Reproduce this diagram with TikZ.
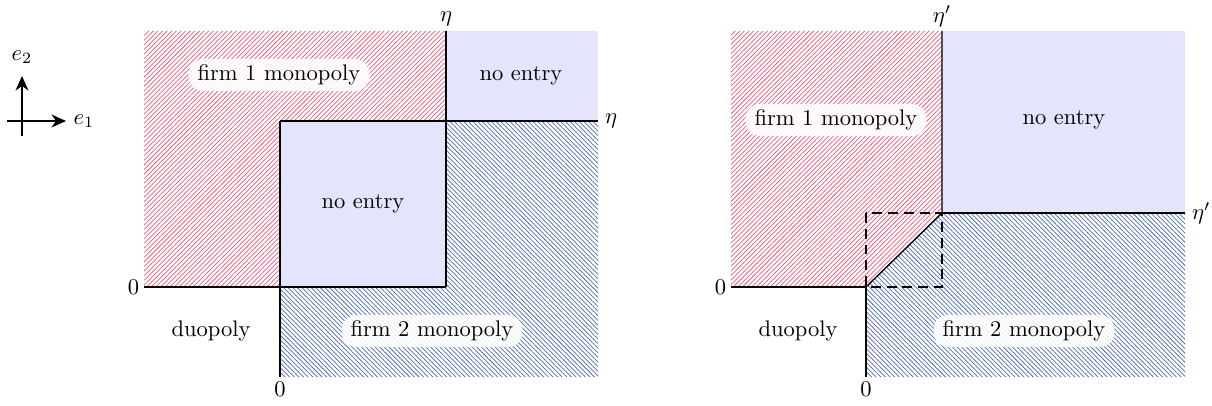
\documentclass[tikz,border=0pt]{standalone}
\usetikzlibrary{patterns.meta,arrows.meta}
\definecolor{hatchred}{RGB}{240,85,120}
\definecolor{hatchblue}{RGB}{75,105,180}
\definecolor{noentry}{RGB}{228,228,252}
\begin{document}
\begin{tikzpicture}[x=0.444pt,y=-0.444pt,
  redhatch/.style={pattern={Lines[angle=45,distance=1.45pt,line width=0.32pt]},pattern color=hatchred},
  bluehatch/.style={pattern={Lines[angle=-45,distance=1.45pt,line width=0.32pt]},pattern color=hatchblue},
  noentryfill/.style={fill=noentry},
  border/.style={line width=0.6pt},
  dashbox/.style={line width=0.6pt,dash pattern=on 4.4pt off 2.6pt},
  tag/.style={fill=white, fill opacity=0.9, text opacity=1, rounded corners=6.5pt, inner xsep=4pt, inner ysep=2.6pt},
  plain/.style={inner sep=2pt},
  axisarrow/.style={line width=0.5pt,-{Stealth[length=6.5pt,width=5.8pt]}}
]
\useasboundingbox (0,0) rectangle (1212,406);

% ---------- axes icon ----------
\coordinate (o) at (22,121);
\coordinate (oL) at (7,121);
\coordinate (oB) at (22,136);
\coordinate (e1end) at (66,121);
\coordinate (e2end) at (22,76);
\draw[axisarrow] (oL) -- (e1end);
\draw[axisarrow] (oB) -- (e2end);
\node[plain] (e1) at (84,121) {$e_1$};
\node[plain] (e2) at (22,57) {$e_2$};

% ---------- left panel ----------
\fill[redhatch] (144,31) -- (446,31) -- (446,121) -- (280,121) -- (280,287) -- (144,287) -- cycle;
\fill[bluehatch] (446,121) -- (598,121) -- (598,377) -- (280,377) -- (280,287) -- (446,287) -- cycle;
\fill[noentryfill] (446,31) rectangle (598,121);
\fill[noentryfill] (280,121) rectangle (446,287);

\coordinate (Ltop) at (446,31);
\coordinate (Lmid) at (446,121);
\coordinate (Lbr) at (446,287);
\coordinate (Lright) at (598,121);
\coordinate (Lbl) at (280,121);
\coordinate (Lbot) at (280,377);
\coordinate (Lleft) at (144,287);
\coordinate (Lzero) at (280,287);
\draw[border] (Ltop) -- (Lbr);
\draw[border] (Lbl) -- (Lright);
\draw[border] (Lleft) -- (Lbr);
\draw[border] (Lbl) -- (Lbot);

\node[plain,anchor=south] (Leta1) at (Ltop) {$\eta$};
\node[plain,anchor=west] (Leta2) at ([xshift=1pt]Lright) {$\eta$};
\node[plain,anchor=east] (Lz1) at (Lleft) {$0$};
\node[plain,anchor=north] (Lz2) at (Lbot) {$0$};

\node[tag] (Lf1) at (279,75) {firm 1 monopoly};
\node (Lne1) at (521,76) {no entry};
\node (Lne2) at (363,204) {no entry};
\node (Lduo) at (211,331) {duopoly};
\node[tag] (Lf2) at (432,331) {firm 2 monopoly};

% ---------- right panel ----------
\fill[redhatch] (731,31) -- (942,31) -- (942,213) -- (866,287) -- (731,287) -- cycle;
\fill[bluehatch] (866,287) -- (942,213) -- (1185,213) -- (1185,377) -- (866,377) -- cycle;
\fill[noentryfill] (942,31) rectangle (1185,213);

\coordinate (Rtop) at (942,31);
\coordinate (Rk) at (942,213);
\coordinate (Rright) at (1185,213);
\coordinate (Rz) at (866,287);
\coordinate (Rleft) at (731,287);
\coordinate (Rbot) at (866,377);
\coordinate (Rdtl) at (866,213);
\coordinate (Rdbr) at (942,287);
\draw[dashbox] (Rdtl) rectangle (Rdbr);
\draw[border] (Rtop) -- (Rk) -- (Rz);
\draw[border] (Rk) -- (Rright);
\draw[border] (Rleft) -- (Rz) -- (Rbot);

\node[plain,anchor=south] (Reta1) at ([yshift=-0.5pt]Rtop) {$\eta'$};
\node[plain,anchor=west] (Reta2) at ([xshift=1pt]Rright) {$\eta'$};
\node[plain,anchor=east] (Rz1) at (Rleft) {$0$};
\node[plain,anchor=north] (Rz2) at (Rbot) {$0$};

\node[tag] (Rf1) at (836,120) {firm 1 monopoly};
\node (Rne) at (1064,120) {no entry};
\node (Rduo) at (798,331) {duopoly};
\node[tag] (Rf2) at (1024,331) {firm 2 monopoly};
\end{tikzpicture}
\end{document}
